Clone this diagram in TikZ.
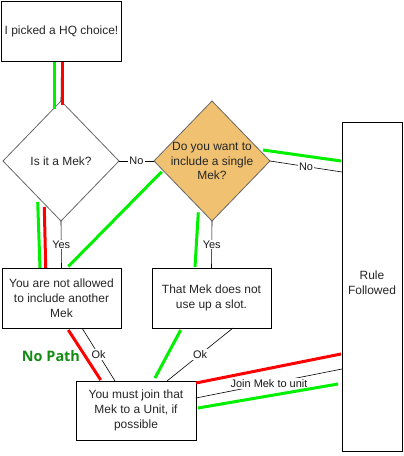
\documentclass[tikz,border=0pt]{standalone}
\usepackage{fontspec}
\setmainfont{Liberation Sans}
\newfontfamily\pathfont{Open Sans}
\usetikzlibrary{shapes.geometric,calc}
\definecolor{decfill}{RGB}{240,193,113}
\definecolor{hlgreen}{RGB}{0,240,0}
\definecolor{hlred}{RGB}{255,0,0}
\definecolor{pathgreen}{RGB}{20,140,20}
\begin{document}
\begin{tikzpicture}[x=1bp,y=-1bp,
  box/.style={draw=black, line width=0.8bp, fill=white, inner sep=2bp, outer sep=0pt, align=center, text=black!85, font=\fontsize{12}{15}\selectfont},
  dia/.style={diamond, draw=black!60, line width=0.8bp, fill=white, inner sep=0pt, outer sep=0pt, minimum width=116bp, minimum height=120bp},
  dtext/.style={align=center, inner sep=0pt, text=black!85, font=\fontsize{12}{15}\selectfont},
  conn/.style={draw=black, line width=0.6bp},
  lbl/.style={fill=white, inner sep=1bp, text=black!90, font=\fontsize{11}{13}\selectfont},
  hlg/.style={draw=hlgreen, line width=3bp},
  hlr/.style={draw=hlred, line width=3bp}]
\useasboundingbox (0,0) rectangle (403,456);

% nodes
\node[box, minimum width=120bp, minimum height=60bp] (hq) at (61.5,31.5) {I picked a HQ choice!};
\node[dia] (d1) at (61,161) {};
\node[dtext] (t1) at (d1) {Is it a Mek?};
\node[dia, fill=decfill] (d2) at (212,161) {};
\node[dtext] (t2) at (d2) {Do you want to\\include a single\\Mek?};
\node[box, minimum width=60bp, minimum height=329bp] (rule) at (372,286.5) {};
\node[dtext] (rt) at (372,283) {Rule\\Followed};
\node[box, minimum width=119bp, minimum height=60bp] (b1) at (61.5,298) {You are not allowed\\to include another\\Mek};
\node[box, minimum width=119bp, minimum height=60bp] (b2) at (211.5,298) {That Mek does not\\use up a slot.};
\node[box, minimum width=120bp, minimum height=59bp] (join) at (136,410.5) {You must join that\\Mek to a Unit, if\\possible};
\node[text=pathgreen, font=\pathfont\bfseries\fontsize{14.5}{16}\selectfont, inner sep=0pt] (np) at (51,356) {No Path};

% connectors
\draw[conn] (hq.south) -- (d1.north);
\draw[conn] (d1.east) -- node[lbl] {No} (d2.west);
\draw[conn] (d1.south) -- node[lbl] {Yes} (b1.north);
\draw[conn] (d2.south) -- node[lbl] {Yes} (b2.north);
\draw[conn] (d2.east) -- node[lbl] {No} ($(rule.north west)+(0,50)$);
\draw[conn] ($(b1.south)+(20.5,0)$) -- node[lbl] {Ok} ($(join.north)+(-21,0)$);
\draw[conn] ($(b2.south)+(21.5,0)$) -- node[lbl] {Ok} ($(join.north)+(31,0)$);
\draw[conn] ($(join.east)+(0,-12.5)$) -- node[lbl] {Join Mek to unit} ($(rule.north west)+(0,247)$);

% highlight paths
\draw[hlg] (54,62) -- (54,109);
\draw[hlr] (62.7,62) -- (62.7,105);
\draw[hlg] (37.7,202) -- (40,268);
\draw[hlr] (44.3,207) -- (45.7,268);
\draw[hlg] (161.7,171.7) -- (68.3,266.5);
\draw[hlg] (198.3,212.3) -- (195,267);
\draw[hlg] (263,150) -- (341,161);
\draw[hlr] (68.3,330) -- (100.7,380);
\draw[hlg] (180.7,330) -- (155,378);
\draw[hlr] (196,383) -- (341,354);
\draw[hlg] (198,408) -- (338,384);
\end{tikzpicture}
\end{document}
